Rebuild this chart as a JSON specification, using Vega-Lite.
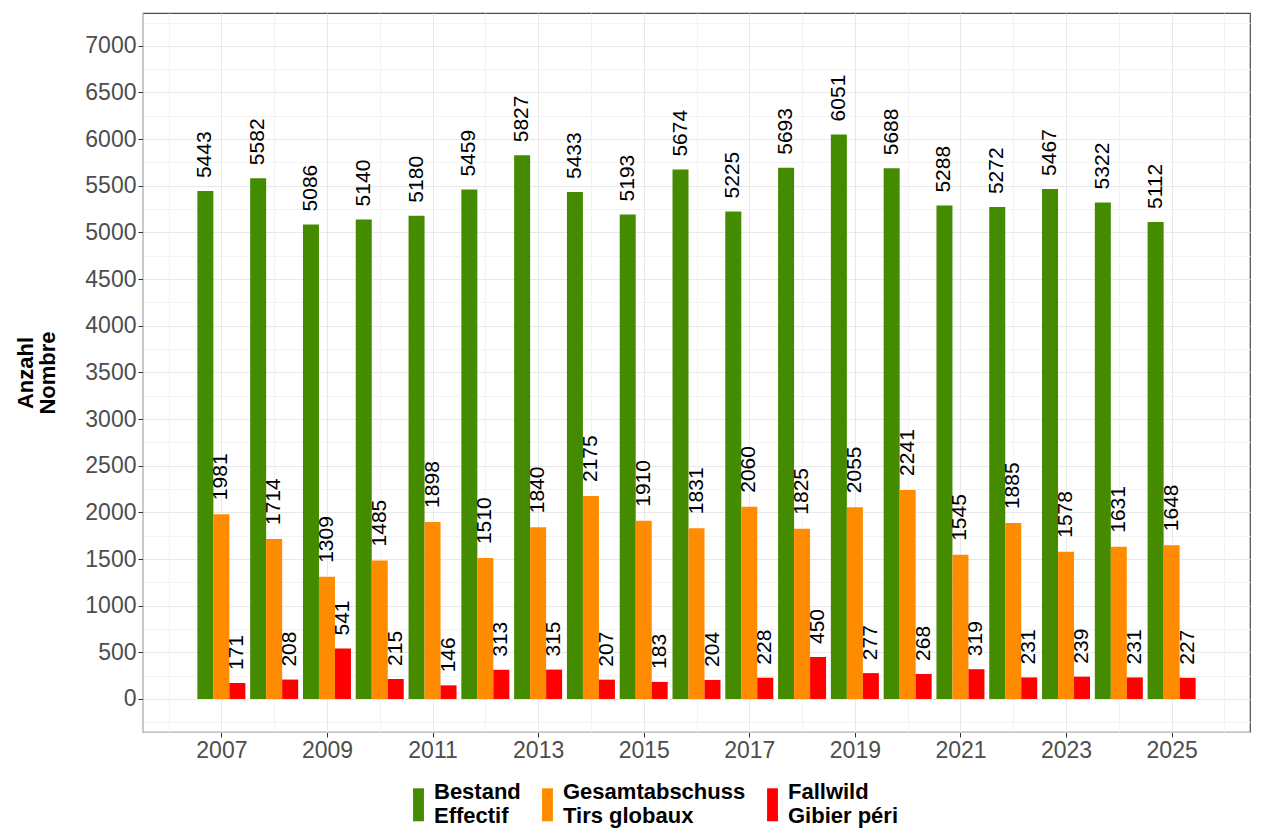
{
  "$schema": "https://vega.github.io/schema/vega-lite/v6.json",
  "width": 1107,
  "height": 719,
  "autosize": "none",
  "padding": {"left": 143, "top": 13, "right": 13, "bottom": 107},
  "background": "white",
  "data": {
    "values": [
      {"year": 2007, "series": "Bestand|Effectif", "value": 5443},
      {"year": 2008, "series": "Bestand|Effectif", "value": 5582},
      {"year": 2009, "series": "Bestand|Effectif", "value": 5086},
      {"year": 2010, "series": "Bestand|Effectif", "value": 5140},
      {"year": 2011, "series": "Bestand|Effectif", "value": 5180},
      {"year": 2012, "series": "Bestand|Effectif", "value": 5459},
      {"year": 2013, "series": "Bestand|Effectif", "value": 5827},
      {"year": 2014, "series": "Bestand|Effectif", "value": 5433},
      {"year": 2015, "series": "Bestand|Effectif", "value": 5193},
      {"year": 2016, "series": "Bestand|Effectif", "value": 5674},
      {"year": 2017, "series": "Bestand|Effectif", "value": 5225},
      {"year": 2018, "series": "Bestand|Effectif", "value": 5693},
      {"year": 2019, "series": "Bestand|Effectif", "value": 6051},
      {"year": 2020, "series": "Bestand|Effectif", "value": 5688},
      {"year": 2021, "series": "Bestand|Effectif", "value": 5288},
      {"year": 2022, "series": "Bestand|Effectif", "value": 5272},
      {"year": 2023, "series": "Bestand|Effectif", "value": 5467},
      {"year": 2024, "series": "Bestand|Effectif", "value": 5322},
      {"year": 2025, "series": "Bestand|Effectif", "value": 5112},
      {"year": 2007, "series": "Gesamtabschuss|Tirs globaux", "value": 1981},
      {"year": 2008, "series": "Gesamtabschuss|Tirs globaux", "value": 1714},
      {"year": 2009, "series": "Gesamtabschuss|Tirs globaux", "value": 1309},
      {"year": 2010, "series": "Gesamtabschuss|Tirs globaux", "value": 1485},
      {"year": 2011, "series": "Gesamtabschuss|Tirs globaux", "value": 1898},
      {"year": 2012, "series": "Gesamtabschuss|Tirs globaux", "value": 1510},
      {"year": 2013, "series": "Gesamtabschuss|Tirs globaux", "value": 1840},
      {"year": 2014, "series": "Gesamtabschuss|Tirs globaux", "value": 2175},
      {"year": 2015, "series": "Gesamtabschuss|Tirs globaux", "value": 1910},
      {"year": 2016, "series": "Gesamtabschuss|Tirs globaux", "value": 1831},
      {"year": 2017, "series": "Gesamtabschuss|Tirs globaux", "value": 2060},
      {"year": 2018, "series": "Gesamtabschuss|Tirs globaux", "value": 1825},
      {"year": 2019, "series": "Gesamtabschuss|Tirs globaux", "value": 2055},
      {"year": 2020, "series": "Gesamtabschuss|Tirs globaux", "value": 2241},
      {"year": 2021, "series": "Gesamtabschuss|Tirs globaux", "value": 1545},
      {"year": 2022, "series": "Gesamtabschuss|Tirs globaux", "value": 1885},
      {"year": 2023, "series": "Gesamtabschuss|Tirs globaux", "value": 1578},
      {"year": 2024, "series": "Gesamtabschuss|Tirs globaux", "value": 1631},
      {"year": 2025, "series": "Gesamtabschuss|Tirs globaux", "value": 1648},
      {"year": 2007, "series": "Fallwild|Gibier péri", "value": 171},
      {"year": 2008, "series": "Fallwild|Gibier péri", "value": 208},
      {"year": 2009, "series": "Fallwild|Gibier péri", "value": 541},
      {"year": 2010, "series": "Fallwild|Gibier péri", "value": 215},
      {"year": 2011, "series": "Fallwild|Gibier péri", "value": 146},
      {"year": 2012, "series": "Fallwild|Gibier péri", "value": 313},
      {"year": 2013, "series": "Fallwild|Gibier péri", "value": 315},
      {"year": 2014, "series": "Fallwild|Gibier péri", "value": 207},
      {"year": 2015, "series": "Fallwild|Gibier péri", "value": 183},
      {"year": 2016, "series": "Fallwild|Gibier péri", "value": 204},
      {"year": 2017, "series": "Fallwild|Gibier péri", "value": 228},
      {"year": 2018, "series": "Fallwild|Gibier péri", "value": 450},
      {"year": 2019, "series": "Fallwild|Gibier péri", "value": 277},
      {"year": 2020, "series": "Fallwild|Gibier péri", "value": 268},
      {"year": 2021, "series": "Fallwild|Gibier péri", "value": 319},
      {"year": 2022, "series": "Fallwild|Gibier péri", "value": 231},
      {"year": 2023, "series": "Fallwild|Gibier péri", "value": 239},
      {"year": 2024, "series": "Fallwild|Gibier péri", "value": 231},
      {"year": 2025, "series": "Fallwild|Gibier péri", "value": 227}
    ]
  },
  "encoding": {
    "x": {
      "field": "year",
      "type": "quantitative",
      "scale": {"domain": [2005.61, 2026.39], "nice": false, "zero": false},
      "axis": {
        "title": null,
        "values": [2006, 2007, 2008, 2009, 2010, 2011, 2012, 2013, 2014, 2015, 2016, 2017, 2018, 2019, 2020, 2021, 2022, 2023, 2024, 2025, 2026],
        "format": "d",
        "labelExpr": "datum.value % 2 === 1 ? datum.label : ''",
        "labelOverlap": false,
        "labelFlush": false,
        "gridColor": {"condition": {"test": "datum.value % 2 === 1", "value": "#e8e8e8"}, "value": "#f3f3f3"},
        "tickColor": {"condition": {"test": "datum.value % 2 === 1", "value": "#333333"}, "value": "transparent"}
      }
    },
    "y": {
      "field": "value",
      "type": "quantitative",
      "scale": {"domain": [-354, 7352], "nice": false, "zero": false},
      "axis": {
        "title": ["Anzahl", "Nombre"],
        "values": [-250, 0, 250, 500, 750, 1000, 1250, 1500, 1750, 2000, 2250, 2500, 2750, 3000, 3250, 3500, 3750, 4000, 4250, 4500, 4750, 5000, 5250, 5500, 5750, 6000, 6250, 6500, 6750, 7000, 7250],
        "format": "d",
        "labelExpr": "(datum.value % 500 === 0 && datum.value >= 0) ? datum.label : ''",
        "labelOverlap": false,
        "labelFlush": false,
        "gridColor": {"condition": {"test": "datum.value % 500 === 0", "value": "#e8e8e8"}, "value": "#f3f3f3"},
        "tickColor": {"condition": {"test": "datum.value % 500 === 0 && datum.value >= 0", "value": "#333333"}, "value": "transparent"}
      }
    },
    "color": {
      "field": "series",
      "type": "nominal",
      "scale": {
        "domain": ["Bestand|Effectif", "Gesamtabschuss|Tirs globaux", "Fallwild|Gibier péri"],
        "range": ["#458B00", "#FF8C00", "#FF0000"]
      },
      "legend": {
        "title": null,
        "orient": "none",
        "direction": "horizontal",
        "legendX": 259,
        "legendY": 762,
        "labelExpr": "split(datum.label, '|')",
        "symbolType": "M-0.33,-0.21H0.33V1.79H-0.33Z",
        "symbolSize": 1089,
        "symbolStrokeWidth": 0,
        "symbolOpacity": 1,
        "labelFont": "Liberation Sans",
        "labelFontSize": 22,
        "labelFontWeight": "bold",
        "labelColor": "#000000",
        "labelLimit": 400,
        "labelOffset": -1,
        "labelLineHeight": 26,
        "columnPadding": 10
      }
    }
  },
  "layer": [
    {"transform": [{"filter": "datum.series === 'Bestand|Effectif'"}], "mark": {"type": "bar", "width": 16, "xOffset": -16}},
    {"transform": [{"filter": "datum.series === 'Gesamtabschuss|Tirs globaux'"}], "mark": {"type": "bar", "width": 16, "xOffset": 0}},
    {"transform": [{"filter": "datum.series === 'Fallwild|Gibier péri'"}], "mark": {"type": "bar", "width": 16, "xOffset": 16}},
    {"transform": [{"filter": "datum.series === 'Bestand|Effectif'"}], "mark": {"type": "text", "xOffset": -16, "angle": 270, "align": "left", "baseline": "middle", "dx": 13, "font": "Liberation Sans", "fontSize": 21}, "encoding": {"text": {"field": "value", "type": "quantitative", "format": "d"}, "color": {"value": "#000000"}}},
    {"transform": [{"filter": "datum.series === 'Gesamtabschuss|Tirs globaux'"}], "mark": {"type": "text", "xOffset": 0, "angle": 270, "align": "left", "baseline": "middle", "dx": 14, "font": "Liberation Sans", "fontSize": 21}, "encoding": {"text": {"field": "value", "type": "quantitative", "format": "d"}, "color": {"value": "#000000"}}},
    {"transform": [{"filter": "datum.series === 'Fallwild|Gibier péri'"}], "mark": {"type": "text", "xOffset": 16, "angle": 270, "align": "left", "baseline": "middle", "dx": 13, "font": "Liberation Sans", "fontSize": 21}, "encoding": {"text": {"field": "value", "type": "quantitative", "format": "d"}, "color": {"value": "#000000"}}}
  ],
  "config": {
    "view": {"stroke": "#4d4d4d", "strokeWidth": 1.2},
    "axis": {
      "labelFont": "Liberation Sans",
      "labelFontSize": 23,
      "labelColor": "#4d4d4d",
      "tickSize": 5,
      "labelPadding": 2,
      "domainColor": "#c8c8c8",
      "gridWidth": 1,
      "titleFont": "Liberation Sans",
      "titleFontSize": 22,
      "titleFontWeight": "bold",
      "titleColor": "#000000",
      "titleLineHeight": 22,
      "titlePadding": 25
    }
  }
}
